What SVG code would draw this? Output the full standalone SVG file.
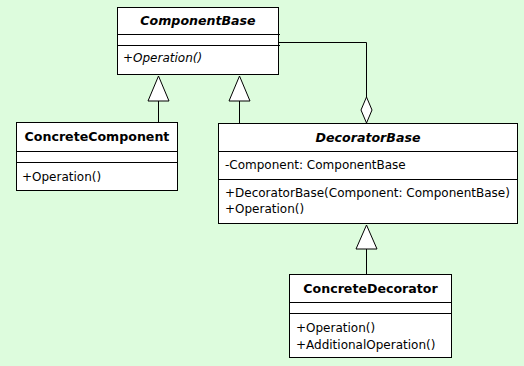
<svg xmlns="http://www.w3.org/2000/svg" width="524" height="366" viewBox="0 0 524 366">
<style>
.box{fill:#fff;stroke:#000;stroke-width:1}
.sep{stroke:#000;stroke-width:1}
.t{font-family:"DejaVu Sans",Verdana,sans-serif;font-size:12px;fill:#000}
.title{font-family:"DejaVu Sans",Verdana,sans-serif;font-size:12.6px;font-weight:bold;fill:#000;text-anchor:middle}
.it{font-style:italic}
.line{fill:none;stroke:#000;stroke-width:1}
.tri{fill:#fff;stroke:#000;stroke-width:1}
</style>
<rect width="524" height="366" fill="#DDFCDD"/>
<g id="connectors">
<path class="line" d="M158.5 101V122.5"/>
<polygon class="tri" points="158.5,76 169,101 148,101"/>
<path class="line" d="M239.5 101V123.5"/>
<polygon class="tri" points="239.5,76 250,101 229,101"/>
<path class="line" d="M366.5 249V274.5"/>
<polygon class="tri" points="366.5,225 377,249 356,249"/>
<path class="line" d="M278.5 42.5H366.5V97"/>
<polygon class="tri" points="366.5,97 372,110 366.5,123 361,110"/>
</g>
<g id="ComponentBase">
<rect class="box" x="117.5" y="7.5" width="161" height="67"/>
<path class="sep" d="M117.5 34.5H280M117.5 45.5H280"/>
<text class="title it" x="198" y="25">ComponentBase</text>
<text class="t it" x="123" y="62">+Operation()</text>
</g>
<g id="ConcreteComponent">
<rect class="box" x="16.5" y="122.5" width="161" height="68"/>
<path class="sep" d="M16.5 151.5H177.5M16.5 162.5H177.5"/>
<text class="title" x="97" y="141">ConcreteComponent</text>
<text class="t" x="22" y="181">+Operation()</text>
</g>
<g id="DecoratorBase">
<rect class="box" x="218.5" y="123.5" width="299" height="100"/>
<path class="sep" d="M218.5 151.5H517.5M218.5 179.5H517.5"/>
<text class="title it" x="368" y="142">DecoratorBase</text>
<text class="t" x="225" y="169">-Component: ComponentBase</text>
<text class="t" x="225" y="197">+DecoratorBase(Component: ComponentBase)</text>
<text class="t" x="225" y="213">+Operation()</text>
</g>
<g id="ConcreteDecorator">
<rect class="box" x="289.5" y="274.5" width="162" height="83"/>
<path class="sep" d="M289.5 302.5H452M289.5 313.5H452"/>
<text class="title" x="370.5" y="293">ConcreteDecorator</text>
<text class="t" x="296" y="332">+Operation()</text>
<text class="t" x="296" y="349">+AdditionalOperation()</text>
</g>
</svg>
